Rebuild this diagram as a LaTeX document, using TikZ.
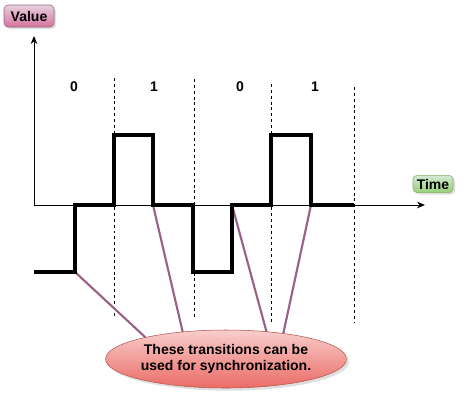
\documentclass[tikz,border=0pt]{standalone}
\usepackage{fontspec}
\setmainfont{Liberation Sans}
\usepackage{xcolor}
\usetikzlibrary{positioning, shapes.geometric, arrows.meta, shadows}

\definecolor{sigpurple}{HTML}{996185}
\definecolor{notefill}{HTML}{F8CECC}
\definecolor{notedark}{HTML}{EA6B66}
\definecolor{noteline}{HTML}{B85450}
\definecolor{valfill}{HTML}{E6D0DE}
\definecolor{valdark}{HTML}{D5739D}
\definecolor{timefill}{HTML}{D5E8D4}
\definecolor{timedark}{HTML}{97D077}
\definecolor{timeline}{HTML}{82B366}

\begin{document}
\begin{tikzpicture}[
    x=0.75pt, y=-0.75pt,
    txt/.style={font=\fontsize{10.5}{12}\selectfont\bfseries},
    axislabel/.style={txt, rectangle, rounded corners=3pt, inner sep=0pt, outer sep=0pt,
        drop shadow={opacity=0.25, shadow xshift=1.5pt, shadow yshift=-1.5pt}},
    bit/.style={txt},
    axis/.style={line width=0.75pt, -{Stealth[length=6pt, width=5pt]}},
    slot/.style={line width=0.75pt, dash pattern=on 2.2pt off 2.2pt},
    signal/.style={line width=3pt, line join=miter},
    pointer/.style={line width=1.6pt, sigpurple},
    note/.style={txt, ellipse, draw=noteline, top color=notefill, bottom color=notedark,
        minimum width=166.5pt, minimum height=43.5pt, inner sep=0pt, outer sep=0pt, align=center,
        drop shadow={opacity=0.25, shadow xshift=2pt, shadow yshift=-2pt}}
]
\useasboundingbox (0,0) rectangle (474,404);

% Axes and their labels
\coordinate (origin) at (34,205);
\coordinate (ytip) at (34,36);
\coordinate (xtip) at (425,205);
\draw[axis] (origin) -- (ytip);
\draw[axis] (origin) -- (xtip);
\node[axislabel, draw=sigpurple, top color=valfill, bottom color=valdark,
      minimum width=37.5pt, minimum height=16.5pt] (value) at (29,16) {Value};
\node[axislabel, draw=timeline, top color=timefill, bottom color=timedark,
      minimum width=30pt, minimum height=13pt] (time) at (433,184) {Time};

% Bit slots
\draw[slot] (114,78) -- (114,317);
\draw[slot] (194,79) -- (194,318);
\draw[slot] (271,84) -- (271,322);
\draw[slot] (354,87) -- (354,323);
\node[bit] (b1) at (74,87) {0};
\node[bit] (b2) at (154,87) {1};
\node[bit] (b3) at (240,87) {0};
\node[bit] (b4) at (315,87) {1};

% Transitions used for synchronization
\coordinate (t1) at (75,272);
\coordinate (t2) at (153,205);
\coordinate (t3) at (232,205);
\coordinate (t4) at (311,205);

\node[note] (sync) at (226,359) {These transitions can be\\used for synchronization.};
\draw[pointer] (t1) -- (sync.165);
\draw[pointer] (t2) -- (sync.148);
\draw[pointer] (t3) -- (sync.34);
\draw[pointer] (t4) -- (sync.24);

% Line code signal
\draw[signal] (34,272) -- (t1) -- (75,205) -- (114,205) -- (114,135) -- (153,135)
    -- (t2) -- (193,205) -- (193,272) -- (232,272) -- (t3) -- (271,205)
    -- (271,135) -- (311,135) -- (t4) -- (354,205);

\end{tikzpicture}
\end{document}
